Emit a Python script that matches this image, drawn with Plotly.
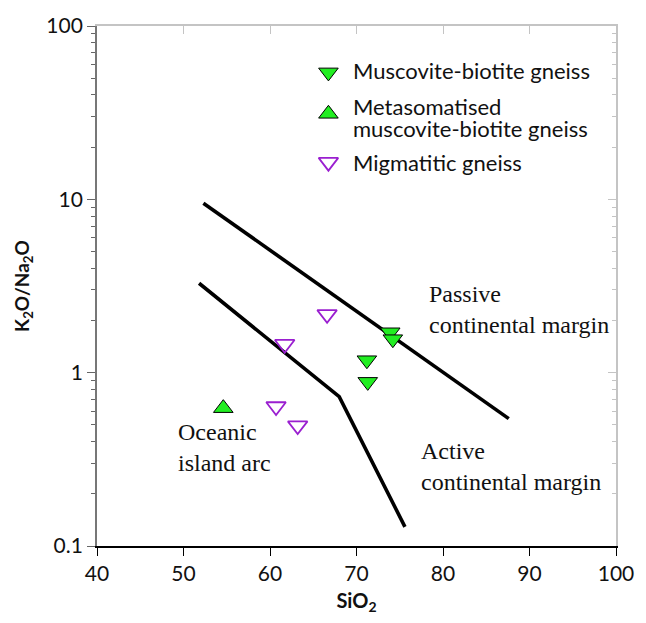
import plotly.graph_objects as go

# Sample compositions (SiO2 wt%, K2O/Na2O)
msb_sio2 = [71.2, 71.3, 73.9, 74.2]
msb_ratio = [1.18, 0.885, 1.71, 1.56]

meta_sio2 = [54.6]
meta_ratio = [0.624]

mig_sio2 = [66.6, 61.7, 60.7, 63.2]
mig_ratio = [2.17, 1.46, 0.638, 0.495]

# Discrimination boundaries (Roser & Korsch type diagram)
pm_acm_sio2 = [52.3, 87.6]
pm_acm_ratio = [9.5, 0.543]

acm_arc_sio2 = [51.8, 68.0, 75.6]
acm_arc_ratio = [3.28, 0.727, 0.129]

x_ticks = [40, 50, 60, 70, 80, 90, 100]
y_ticks = [0.1, 1, 10, 100]
y_tick_text = ["0.1", "1", "10", "100"]

# Legend entries: label lines and marker symbol
legend_entries = [
    (["Muscovite-biotite gneiss"], "triangle-down"),
    (["Metasomatised", "muscovite-biotite gneiss"], "triangle-up"),
    (["Migmatitic gneiss"], "triangle-down-open"),
]

SANS = "Lato, 'Open Sans', sans-serif"
SERIF = "'Liberation Serif', 'DejaVu Serif', serif"
GREEN = "#22ee22"
PURPLE = "#9a1fd0"
LIGHT = "#c4c4c4"
INK = "#111111"

W, H = 646, 623
L, R, T, B = 97, 22, 19, 77
PW, PH = W - L - R, H - T - B


def px_x(px):
    return (px - L) / PW


def px_y(py):
    return (H - B - py) / PH


styles = {
    "triangle-down": dict(color=GREEN, line=dict(color="black", width=1)),
    "triangle-up": dict(color=GREEN, line=dict(color="black", width=1)),
    "triangle-down-open": dict(color=PURPLE, line=dict(color=PURPLE, width=1.8)),
}

fig = go.Figure()

for xs, ys in [(pm_acm_sio2, pm_acm_ratio), (acm_arc_sio2, acm_arc_ratio)]:
    fig.add_trace(go.Scatter(
        x=xs, y=ys, mode="lines",
        line=dict(color="black", width=3.6),
        showlegend=False, hoverinfo="skip",
    ))

for xs, ys, sym in [(msb_sio2, msb_ratio, "triangle-down"),
                    (meta_sio2, meta_ratio, "triangle-up"),
                    (mig_sio2, mig_ratio, "triangle-down-open")]:
    fig.add_trace(go.Scatter(
        x=xs, y=ys, mode="markers", showlegend=False,
        marker=dict(symbol=sym, size=17, **styles[sym]),
    ))

# Key symbols, placed on a hidden overlay axis spanning the plot in [0, 1]
key_marker_y = [px_y(66), px_y(108), px_y(157)]
for (lines, sym), ky in zip(legend_entries, key_marker_y):
    fig.add_trace(go.Scatter(
        x=[px_x(332)], y=[ky], xaxis="x3", yaxis="y3", mode="markers",
        showlegend=False, hoverinfo="skip",
        marker=dict(symbol=sym, size=17, **styles[sym]),
    ))

# invisible trace so the mirrored top/right frame axes get drawn
fig.add_trace(go.Scatter(
    x=[None], y=[None], xaxis="x2", yaxis="y2",
    showlegend=False, hoverinfo="skip", mode="markers",
))

fig.update_layout(
    width=W, height=H,
    margin=dict(l=L, r=R, t=T, b=B),
    paper_bgcolor="white", plot_bgcolor="white",
    font=dict(family=SANS, color="black"),
    showlegend=False,
    xaxis=dict(
        range=[40, 100], tickvals=x_ticks,
        ticks="outside", ticklen=8, tickwidth=1.2, tickcolor="black",
        showline=True, linecolor="black", linewidth=1.6,
        showgrid=False, zeroline=False,
        tickfont=dict(family=SANS, size=21, color=INK),
        title=dict(text="<b>SiO<sub>2</sub></b>", standoff=10,
                   font=dict(family=SANS, size=20, color=INK)),
    ),
    yaxis=dict(
        type="log", range=[-1, 2], tickvals=y_ticks, ticktext=y_tick_text,
        ticks="outside", ticklen=8, tickwidth=1.2, tickcolor="#666666",
        showline=True, linecolor="#777777", linewidth=1.8,
        showgrid=False, zeroline=False,
        minor=dict(ticks="outside", ticklen=4, tickwidth=1.2,
                   tickcolor="#666666", dtick="D1", showgrid=False),
        tickfont=dict(family=SANS, size=21, color=INK),
        title=dict(text="<b>K<sub>2</sub>O/Na<sub>2</sub>O</b>", standoff=12,
                   font=dict(family=SANS, size=19, color=INK)),
    ),
    xaxis2=dict(
        overlaying="x", side="top", range=[40, 100], tickvals=x_ticks,
        ticks="inside", ticklen=8, tickwidth=1.2, tickcolor=LIGHT,
        showline=True, linecolor=LIGHT, linewidth=1.5,
        showticklabels=False, showgrid=False, zeroline=False,
    ),
    yaxis2=dict(
        overlaying="y", side="right", type="log", range=[-1, 2],
        tickvals=y_ticks, ticks="inside", ticklen=8, tickwidth=1.2,
        tickcolor=LIGHT, showline=True, linecolor=LIGHT, linewidth=1.5,
        minor=dict(ticks="inside", ticklen=4, tickwidth=1.2,
                   tickcolor=LIGHT, dtick="D1", showgrid=False),
        showticklabels=False, showgrid=False, zeroline=False,
    ),
    xaxis3=dict(overlaying="x", range=[0, 1], visible=False, fixedrange=True),
    yaxis3=dict(overlaying="y", range=[0, 1], visible=False, fixedrange=True),
)

# Key labels
key_text_rows = [
    ("Muscovite-biotite gneiss", 64),
    ("Metasomatised", 101),
    ("muscovite-biotite gneiss", 123),
    ("Migmatitic gneiss", 157.5),
]
for text, py in key_text_rows:
    fig.add_annotation(
        text=text, x=px_x(355), y=px_y(py), xref="paper", yref="paper",
        xanchor="left", yanchor="middle", align="left", showarrow=False,
        font=dict(family=SANS, size=22, color=INK),
    )

# Tectonic setting field labels
field_labels = [
    ("Passive<br>continental margin", 432, 306),
    ("Active<br>continental margin", 424, 465),
    ("Oceanic<br>island arc", 177, 446),
]
for text, px, py in field_labels:
    fig.add_annotation(
        text=text, x=px_x(px), y=px_y(py), xref="paper", yref="paper",
        xanchor="left", yanchor="middle", align="left", showarrow=False,
        font=dict(family=SERIF, size=24, color=INK),
    )

fig.write_html("out.html")
